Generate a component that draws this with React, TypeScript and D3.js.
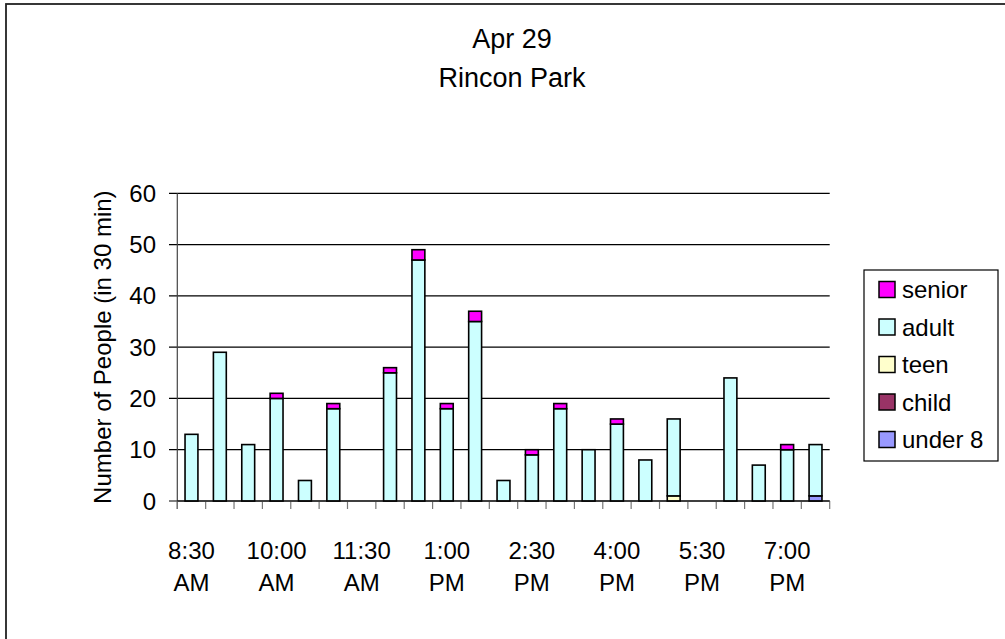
import React from "react";
import * as d3 from "d3";

const categories = [
  "8:30 AM", "9:00 AM", "9:30 AM", "10:00 AM", "10:30 AM", "11:00 AM",
  "11:30 AM", "12:00 PM", "12:30 PM", "1:00 PM", "1:30 PM", "2:00 PM",
  "2:30 PM", "3:00 PM", "3:30 PM", "4:00 PM", "4:30 PM", "5:00 PM",
  "5:30 PM", "6:00 PM", "6:30 PM", "7:00 PM", "7:30 PM",
];
const under8 = [0,0,0,0,0,0,0,0,0,0,0,0,0,0,0,0,0,0,0,0,0,0,1];
const child  = [0,0,0,0,0,0,0,0,0,0,0,0,0,0,0,0,0,0,0,0,0,0,0];
const teen   = [0,0,0,0,0,0,0,0,0,0,0,0,0,0,0,0,0,1,0,0,0,0,0];
const adult  = [13,29,11,20,4,18,0,25,47,18,35,4,9,18,10,15,8,15,0,24,7,10,10];
const senior = [0,0,0,1,0,1,0,1,2,1,2,0,1,1,0,1,0,0,0,0,0,1,0];
const yTicks = [0, 10, 20, 30, 40, 50, 60];

const seriesNames = ["under 8", "child", "teen", "adult", "senior"];
const seriesColors = ["#9999FF", "#993366", "#FFFFCC", "#CCFFFF", "#FF00FF"];
const legendOrder = ["senior", "adult", "teen", "child", "under 8"];

const FONT = "'Liberation Sans', Arial, Helvetica, sans-serif";

export default function App() {
  const W = 1005, H = 639;
  const left = 177.3, right = 829.7, top = 193.3, bottom = 501;

  const rows = categories.map((c, i) => ({
    cat: c,
    "under 8": under8[i],
    child: child[i],
    teen: teen[i],
    adult: adult[i],
    senior: senior[i],
  }));
  const stacked = d3.stack<any>().keys(seriesNames)(rows);

  const x = d3.scaleBand<string>().domain(categories).range([left, right]).padding(0);
  const y = d3.scaleLinear().domain([0, 60]).range([bottom, top]);
  const bw = x.bandwidth() / 2.2;
  const color = d3.scaleOrdinal<string, string>().domain(seriesNames).range(seriesColors);

  const boundaries = d3.range(categories.length + 1).map((i) => left + i * x.bandwidth());

  return (
    <svg width={W} height={H} style={{ position: "fixed", left: 0, top: 0, background: "#fff" }} fontFamily={FONT}>
      <rect x={0} y={0} width={W} height={H} fill="#fff" />
      <rect x={6} y={4} width={1200} height={800} fill="none" stroke="#222" strokeWidth={1.8} />

      {/* title */}
      <text x={512} y={48} textAnchor="middle" fontSize={27} fill="#000">Apr 29</text>
      <text x={512} y={87} textAnchor="middle" fontSize={27} fill="#000">Rincon Park</text>

      {/* gridlines */}
      {yTicks.map((t) => (
        <g key={t}>
          <line x1={169} x2={right} y1={y(t)} y2={y(t)} stroke="#000" strokeWidth={1.2} />
          <text x={156} y={y(t) + 8.5} textAnchor="end" fontSize={24} fill="#000">{t}</text>
        </g>
      ))}

      {/* y axis */}
      <line x1={left} x2={left} y1={top} y2={bottom + 8} stroke="#444" strokeWidth={1.2} />
      {/* x ticks */}
      {boundaries.map((bx, i) => (
        <line key={i} x1={bx} x2={bx} y1={bottom} y2={bottom + 8} stroke="#777" strokeWidth={1.2} />
      ))}

      {/* bars */}
      {stacked.map((s) => (
        <g key={s.key} fill={color(s.key)} stroke="#000" strokeWidth={1.6}>
          {s.map((d, i) => {
            const h = y(d[0]) - y(d[1]);
            if (h <= 0) return null;
            return (
              <rect key={i} x={(x(categories[i]) as number) + (x.bandwidth() - bw) / 2} y={y(d[1])} width={bw} height={h} />
            );
          })}
        </g>
      ))}
      <line x1={left} x2={right} y1={bottom} y2={bottom} stroke="#000" strokeWidth={1.2} />

      {/* x labels */}
      {categories.map((c, i) => {
        if (i % 3 !== 0) return null;
        const [t, ap] = c.split(" ");
        const cx = (x(c) as number) + x.bandwidth() / 2;
        return (
          <g key={c}>
            <text x={cx} y={559} textAnchor="middle" fontSize={24} fill="#000">{t}</text>
            <text x={cx} y={591} textAnchor="middle" fontSize={24} fill="#000">{ap}</text>
          </g>
        );
      })}

      {/* y title */}
      <text transform={`translate(111, ${(top + bottom) / 2}) rotate(-90)`} textAnchor="middle" fontSize={24} fill="#000">
        Number of People (in 30 min)
      </text>

      {/* legend */}
      <rect x={864} y={270} width={134} height={191} fill="#fff" stroke="#000" strokeWidth={1.2} />
      {legendOrder.map((name, i) => {
        const cy = 289.5 + i * 37.5;
        return (
          <g key={name}>
            <rect x={879} y={cy - 8} width={16} height={16} fill={color(name)} stroke="#000" strokeWidth={1.5} />
            <text x={902} y={cy + 8.5} fontSize={24} fill="#000">{name}</text>
          </g>
        );
      })}
    </svg>
  );
}
